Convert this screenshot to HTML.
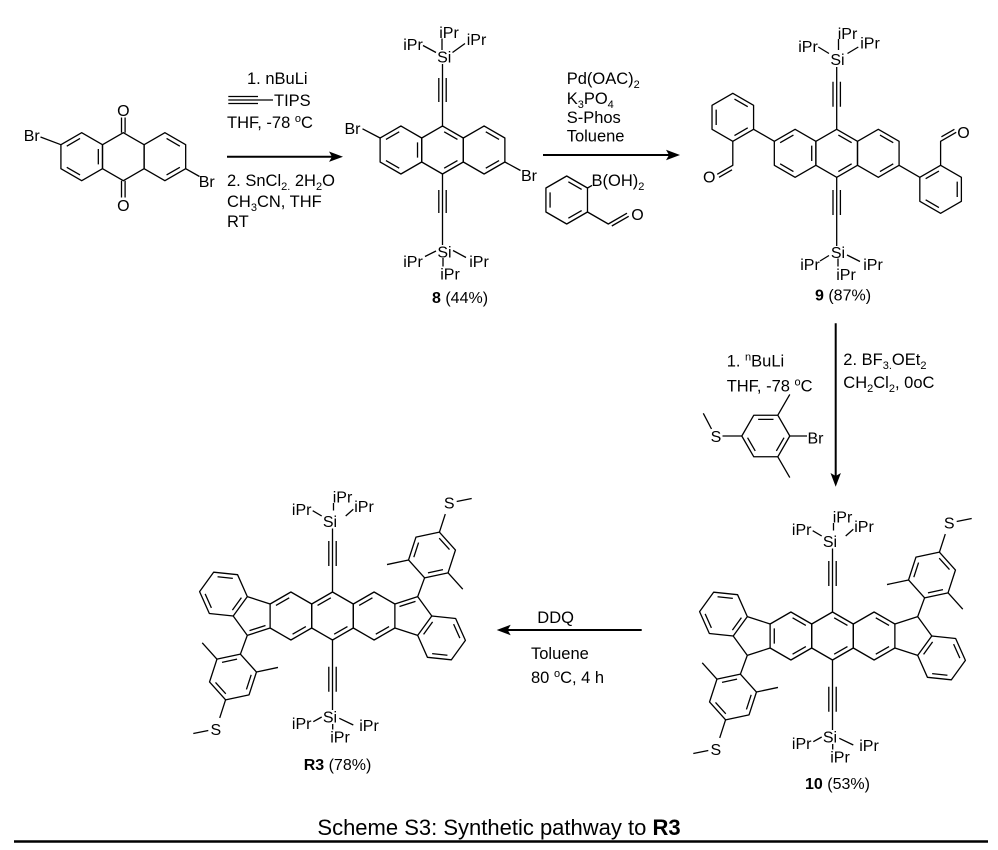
<!DOCTYPE html>
<html><head><meta charset="utf-8"><style>
html,body{margin:0;padding:0;background:#fff;}
svg{display:block;}
text{font-family:"Liberation Sans",Arial,sans-serif;fill:#000;}
.l{font-size:16px;text-anchor:middle;}
.r{font-size:16.5px;}
.s{font-size:11px;}
.cap{font-size:22px;text-anchor:middle;}
</style></head><body>
<svg width="998" height="850" viewBox="0 0 998 850" xmlns="http://www.w3.org/2000/svg">

<!-- ============ BONDS ============ -->
<g fill="none" stroke="#000" stroke-width="1.3" stroke-linejoin="round">

<!-- Starting material -->
<g transform="translate(81.7,156.7)"><polygon points="0,-24 20.78,-12 20.78,12 0,24 -20.78,12 -20.78,-12"/><path d="M-14.96,-10.56L-1.66,-18.24M16.62,-7.68L16.62,7.68M-1.66,18.24L-14.96,10.56"/></g>
<g transform="translate(123.3,156.7)"><polygon points="0,-24 20.78,-12 20.78,12 0,24 -20.78,12 -20.78,-12"/></g>
<g transform="translate(164.9,156.7)"><polygon points="0,-24 20.78,-12 20.78,12 0,24 -20.78,12 -20.78,-12"/><path d="M1.66,-18.24L14.96,-10.56M14.96,10.56L1.66,18.24"/></g>
<path d="M121.5,132.7V117.5M125.1,132.7V117.5M121.5,180.7V197.5M125.1,180.7V197.5M60.9,144.7L40.5,137M185.7,168.7L199.5,176.5"/>

<!-- TIPS acetylene in reagents -->
<path d="M228.3,96.5H258M228.3,100H273M228.3,103.5H258"/>

<!-- Compound 8 -->
<g transform="translate(400.9,150)"><polygon points="0,-24 20.78,-12 20.78,12 0,24 -20.78,12 -20.78,-12"/><path d="M-14.96,-10.56L-1.66,-18.24M16.62,-7.68L16.62,7.68M-1.66,18.24L-14.96,10.56"/></g>
<g transform="translate(442.5,150)"><polygon points="0,-24 20.78,-12 20.78,12 0,24 -20.78,12 -20.78,-12"/><path d="M1.66,-18.24L14.96,-10.56M14.96,10.56L1.66,18.24"/></g>
<g transform="translate(484.1,150)"><polygon points="0,-24 20.78,-12 20.78,12 0,24 -20.78,12 -20.78,-12"/><path d="M1.66,-18.24L14.96,-10.56M14.96,10.56L1.66,18.24"/></g>
<path d="M380.1,138L362.5,128.8M504.9,162L520.5,170.5"/>
<path d="M442.5,64V126M438.8,78V102M446.2,78V102M442.5,174V245M438.8,190V213M446.2,190V213"/>
<path d="M423,45.5L436,52.5M452.5,52.5L465,43.5M442,38.5V50M425,256.5L436,251M453,250.5L466,257.5M443,258V266.5"/>

<!-- Boronic acid -->
<g transform="translate(566.7,200)"><polygon points="0,-24 20.78,-12 20.78,12 0,24 -20.78,12 -20.78,-12"/><path d="M-16.62,7.68L-16.62,-7.68M1.66,-18.24L14.96,-10.56M14.96,10.56L1.66,18.24"/></g>
<path d="M587.5,188L592,185.4M587.5,212L608.3,224L627,213.2M611.8,226L628.7,216.3"/>

<!-- Compound 9 -->
<g transform="translate(795.1,153.3)"><polygon points="0,-24 20.78,-12 20.78,12 0,24 -20.78,12 -20.78,-12"/><path d="M-14.96,-10.56L-1.66,-18.24M16.62,-7.68L16.62,7.68M-1.66,18.24L-14.96,10.56"/></g>
<g transform="translate(836.7,153.3)"><polygon points="0,-24 20.78,-12 20.78,12 0,24 -20.78,12 -20.78,-12"/><path d="M1.66,-18.24L14.96,-10.56M14.96,10.56L1.66,18.24"/></g>
<g transform="translate(878.3,153.3)"><polygon points="0,-24 20.78,-12 20.78,12 0,24 -20.78,12 -20.78,-12"/><path d="M1.66,-18.24L14.96,-10.56M14.96,10.56L1.66,18.24"/></g>
<g>
<g transform="translate(732.8,117.3)"><polygon points="0,-24 20.78,-12 20.78,12 0,24 -20.78,12 -20.78,-12"/><path d="M1.66,-18.24L14.96,-10.56M14.96,10.56L1.66,18.24M-16.62,7.68L-16.62,-7.68"/></g>
<path d="M774.35,141.3L753.58,129.3M732.8,141.3V165.3L717.2,174.3M732,169.8L719,177.3"/>
</g>
<g transform="rotate(180,836.7,153.3)">
<g transform="translate(732.8,117.3)"><polygon points="0,-24 20.78,-12 20.78,12 0,24 -20.78,12 -20.78,-12"/><path d="M1.66,-18.24L14.96,-10.56M14.96,10.56L1.66,18.24M-16.62,7.68L-16.62,-7.68"/></g>
<path d="M774.35,141.3L753.58,129.3M732.8,141.3V165.3L717.2,174.3M732,169.8L719,177.3"/>
</g>
<path d="M836.7,67V129.3M833,81.7V106.7M840.4,81.7V106.7M836.7,177.3V246M833,190V215M840.4,190V215"/>
<path d="M818.3,47L829,53.5M847.5,53.5L858.3,47M838.5,39V50M820,261L829,255.5M847,255L860,261.5M838,258.5V266.5"/>

<!-- Bromo-thioanisole reagent -->
<g transform="translate(765.8,436) rotate(30)"><polygon points="0,-24 20.78,-12 20.78,12 0,24 -20.78,12 -20.78,-12"/><path d="M-14.96,-10.56L-1.66,-18.24M16.62,-7.68L16.62,7.68M-1.66,18.24L-14.96,10.56"/></g>
<path d="M722.5,436H741.8M711.5,429L703.3,413.3M789.8,436H807M777.8,415.2L789.8,394.4M777.8,456.8L789.8,477.6"/>

<!-- Compound 10 -->
<g>
<g transform="translate(790.9,636)"><polygon points="0,-24 20.78,-12 20.78,12 0,24 -20.78,12 -20.78,-12"/><path d="M-16.62,7.68L-16.62,-7.68M1.66,-18.24L14.96,-10.56M14.96,10.56L1.66,18.24"/></g>
<g transform="translate(832.5,636)"><polygon points="0,-24 20.78,-12 20.78,12 0,24 -20.78,12 -20.78,-12"/><path d="M1.66,-18.24L14.96,-10.56M14.96,10.56L1.66,18.24"/></g>
<g transform="translate(874.1,636)"><polygon points="0,-24 20.78,-12 20.78,12 0,24 -20.78,12 -20.78,-12"/><path d="M1.66,-18.24L14.96,-10.56M14.96,10.56L1.66,18.24"/></g>
<path d="M832.5,548.5V612M828.8,561V586M836.2,561V586M832.5,660V730M828.8,686.7V711.7M836.2,686.7V711.7"/>
<path d="M812.7,530.7L821.7,536M845.7,536L853.3,529.3M833.5,523V530.5M813.3,741.7L821.7,737M839.3,738.3L853.3,745M832.7,744V749.5"/>
<g>
<path d="M770.1,624L747.3,616.6M733.2,636L747.3,655.4L770.1,648M747.3,655.4L740.4,674.2M708.3,750.5L693.3,753.5"/>
<g transform="translate(723.46,614.09) rotate(96)"><polygon points="0,-24 20.78,-12 20.78,12 0,24 -20.78,12 -20.78,-12"/><path d="M1.66,-18.24L14.96,-10.56M14.96,10.56L1.66,18.24M-16.62,7.68L-16.62,-7.68"/></g>
<g transform="translate(733,697) rotate(18)"><polygon points="0,-24 20.78,-12 20.78,12 0,24 -20.78,12 -20.78,-12"/><path d="M-14.96,-10.56L-1.66,-18.24M16.62,-7.68L16.62,7.68M-1.66,18.24L-14.96,10.56M-20.78,-12L-39.83,-23M20.78,-12L39.83,-23M0,24V43"/></g>
</g>
<g transform="rotate(180,832.5,636)">
<path d="M770.1,624L747.3,616.6M733.2,636L747.3,655.4L770.1,648M747.3,655.4L740.4,674.2M708.3,750.5L693.3,753.5"/>
<g transform="translate(723.46,614.09) rotate(96)"><polygon points="0,-24 20.78,-12 20.78,12 0,24 -20.78,12 -20.78,-12"/><path d="M1.66,-18.24L14.96,-10.56M14.96,10.56L1.66,18.24M-16.62,7.68L-16.62,-7.68"/></g>
<g transform="translate(733,697) rotate(18)"><polygon points="0,-24 20.78,-12 20.78,12 0,24 -20.78,12 -20.78,-12"/><path d="M-14.96,-10.56L-1.66,-18.24M16.62,-7.68L16.62,7.68M-1.66,18.24L-14.96,10.56M-20.78,-12L-39.83,-23M20.78,-12L39.83,-23M0,24V43"/></g>
</g>
</g>

<!-- R3 (compound 10 geometry shifted) -->
<g transform="translate(-500,-20)">
<g transform="translate(790.9,636)"><polygon points="0,-24 20.78,-12 20.78,12 0,24 -20.78,12 -20.78,-12"/><path d="M-14.96,-10.56L-1.66,-18.24M14.96,10.56L1.66,18.24"/></g>
<g transform="translate(832.5,636)"><polygon points="0,-24 20.78,-12 20.78,12 0,24 -20.78,12 -20.78,-12"/><path d="M-14.96,-10.56L-1.66,-18.24M14.96,10.56L1.66,18.24"/></g>
<g transform="translate(874.1,636)"><polygon points="0,-24 20.78,-12 20.78,12 0,24 -20.78,12 -20.78,-12"/><path d="M-14.96,-10.56L-1.66,-18.24M14.96,10.56L1.66,18.24"/></g>
<path d="M832.5,548.5V612M828.8,561V586M836.2,561V586M832.5,660V730M828.8,686.7V711.7M836.2,686.7V711.7"/>
<path d="M812.7,530.7L821.7,536M845.7,536L853.3,529.3M833.5,523V530.5M813.3,741.7L821.7,737M839.3,738.3L853.3,745M832.7,744V749.5"/>
<g>
<path d="M770.1,624L747.3,616.6M733.2,636L747.3,655.4L770.1,648M747.3,655.4L740.4,674.2M708.3,750.5L693.3,753.5M749.5,650.6L765.5,645.5"/>
<g transform="translate(723.46,614.09) rotate(96)"><polygon points="0,-24 20.78,-12 20.78,12 0,24 -20.78,12 -20.78,-12"/><path d="M1.66,-18.24L14.96,-10.56M14.96,10.56L1.66,18.24M-16.62,7.68L-16.62,-7.68"/></g>
<g transform="translate(733,697) rotate(18)"><polygon points="0,-24 20.78,-12 20.78,12 0,24 -20.78,12 -20.78,-12"/><path d="M-14.96,-10.56L-1.66,-18.24M16.62,-7.68L16.62,7.68M-1.66,18.24L-14.96,10.56M-20.78,-12L-39.83,-23M20.78,-12L39.83,-23M0,24V43"/></g>
</g>
<g transform="rotate(180,832.5,636)">
<path d="M770.1,624L747.3,616.6M733.2,636L747.3,655.4L770.1,648M747.3,655.4L740.4,674.2M708.3,750.5L693.3,753.5M749.5,650.6L765.5,645.5"/>
<g transform="translate(723.46,614.09) rotate(96)"><polygon points="0,-24 20.78,-12 20.78,12 0,24 -20.78,12 -20.78,-12"/><path d="M1.66,-18.24L14.96,-10.56M14.96,10.56L1.66,18.24M-16.62,7.68L-16.62,-7.68"/></g>
<g transform="translate(733,697) rotate(18)"><polygon points="0,-24 20.78,-12 20.78,12 0,24 -20.78,12 -20.78,-12"/><path d="M-14.96,-10.56L-1.66,-18.24M16.62,-7.68L16.62,7.68M-1.66,18.24L-14.96,10.56M-20.78,-12L-39.83,-23M20.78,-12L39.83,-23M0,24V43"/></g>
</g>
</g>

<!-- Arrows -->
<g stroke-width="2">
<path d="M227,156.7H334"/>
<path d="M543,155H671"/>
<path d="M835.7,323.3V477"/>
<path d="M641.7,630H507"/>
</g>
<path d="M14,841.5H988" stroke-width="2.5"/>
</g>
<g fill="#000" stroke="none">
<polygon points="343,156.7 329,151.5 332,156.7 329,161.9"/>
<polygon points="680,155 666,149.8 669,155 666,160.2"/>
<polygon points="835.7,486.7 830.5,473 835.7,476 840.9,473"/>
<polygon points="496.7,630 510.7,624.8 507.7,630 510.7,635.2"/>
</g>

<!-- ============ TEXT ============ -->
<!-- Starting material -->
<text class="l" x="31.7" y="140.8">Br</text>
<text class="l" x="123.3" y="115.8">O</text>
<text class="l" x="123.3" y="210.8">O</text>
<text class="l" x="206.7" y="186.8">Br</text>

<!-- Arrow 1 reagents -->
<text class="r" x="247" y="84">1. nBuLi</text>
<text class="r" x="274" y="106">TIPS</text>
<text class="r" x="227" y="128">THF, -78 <tspan class="s" dy="-6">o</tspan><tspan dy="6">C</tspan></text>
<text class="r" x="227" y="186">2. SnCl<tspan class="s" dy="4">2.</tspan><tspan dy="-4"> 2H</tspan><tspan class="s" dy="4">2</tspan><tspan dy="-4">O</tspan></text>
<text class="r" x="227" y="207">CH<tspan class="s" dy="4">3</tspan><tspan dy="-4">CN, THF</tspan></text>
<text class="r" x="227" y="227">RT</text>

<!-- Compound 8 -->
<text class="l" x="449" y="37.8">iPr</text>
<text class="l" x="413" y="49.8">iPr</text>
<text class="l" x="476.5" y="44.8">iPr</text>
<text class="l" x="444.2" y="62.3">Si</text>
<text class="l" x="352.5" y="134">Br</text>
<text class="l" x="529" y="180.8">Br</text>
<text class="l" x="444.5" y="257.3">Si</text>
<text class="l" x="413" y="266.8">iPr</text>
<text class="l" x="479" y="266.8">iPr</text>
<text class="l" x="450" y="279.3">iPr</text>
<text class="l" x="460" y="303"><tspan font-weight="bold">8</tspan> (44%)</text>

<!-- Arrow 2 reagents -->
<text class="r" x="566.7" y="84">Pd(OAC)<tspan class="s" dy="4">2</tspan></text>
<text class="r" x="566.7" y="104">K<tspan class="s" dy="4">3</tspan><tspan dy="-4">PO</tspan><tspan class="s" dy="4">4</tspan></text>
<text class="r" x="566.7" y="123">S-Phos</text>
<text class="r" x="566.7" y="141.5">Toluene</text>
<text class="r" x="591.5" y="186">B(OH)<tspan class="s" dy="4">2</tspan></text>
<text class="l" x="637.5" y="220">O</text>

<!-- Compound 9 -->
<text class="l" x="847.5" y="38.8">iPr</text>
<text class="l" x="808" y="51.8">iPr</text>
<text class="l" x="870" y="48.3">iPr</text>
<text class="l" x="837.5" y="64.8">Si</text>
<text class="l" x="709.2" y="182.5">O</text>
<text class="l" x="963.5" y="137.8">O</text>
<text class="l" x="838" y="257.8">Si</text>
<text class="l" x="810" y="269.8">iPr</text>
<text class="l" x="873" y="269.8">iPr</text>
<text class="l" x="846" y="279.8">iPr</text>
<text class="l" x="843" y="300.7"><tspan font-weight="bold">9</tspan> (87%)</text>

<!-- Arrow 3 reagents -->
<text class="r" x="726.7" y="366.5">1. <tspan class="s" dy="-6">n</tspan><tspan dy="6">BuLi</tspan></text>
<text class="r" x="726.7" y="391.5">THF, -78 <tspan class="s" dy="-6">o</tspan><tspan dy="6">C</tspan></text>
<text class="r" x="843.3" y="365">2. BF<tspan class="s" dy="4">3.</tspan><tspan dy="-4">OEt</tspan><tspan class="s" dy="4">2</tspan></text>
<text class="r" x="843.3" y="388">CH<tspan class="s" dy="4">2</tspan><tspan dy="-4">Cl</tspan><tspan class="s" dy="4">2</tspan><tspan dy="-4">, 0oC</tspan></text>
<text class="l" x="716" y="441.8">S</text>
<text class="l" x="815.5" y="443.3">Br</text>

<!-- Compound 10 -->
<text class="l" x="842.5" y="522.5">iPr</text>
<text class="l" x="801.7" y="534.8">iPr</text>
<text class="l" x="864" y="531.8">iPr</text>
<text class="l" x="830" y="546.8">Si</text>
<text class="l" x="830" y="742.5">Si</text>
<text class="l" x="801.7" y="749.1">iPr</text>
<text class="l" x="869" y="750.8">iPr</text>
<text class="l" x="840" y="762.5">iPr</text>
<text class="l" x="715.8" y="755">S</text>
<text class="l" x="949.2" y="528.6">S</text>
<text class="l" x="837.5" y="789"><tspan font-weight="bold">10</tspan> (53%)</text>

<!-- R3 -->
<text class="l" x="342.5" y="502.5">iPr</text>
<text class="l" x="301.7" y="514.8">iPr</text>
<text class="l" x="364" y="511.8">iPr</text>
<text class="l" x="330" y="526.8">Si</text>
<text class="l" x="330" y="722.5">Si</text>
<text class="l" x="301.7" y="729.1">iPr</text>
<text class="l" x="369" y="730.8">iPr</text>
<text class="l" x="340" y="742.5">iPr</text>
<text class="l" x="215.8" y="735">S</text>
<text class="l" x="449.2" y="508.6">S</text>
<text class="l" x="337.5" y="770"><tspan font-weight="bold">R3</tspan> (78%)</text>

<!-- Arrow 4 reagents -->
<text class="r" x="537.3" y="623">DDQ</text>
<text class="r" x="531" y="659">Toluene</text>
<text class="r" x="531" y="683">80 <tspan class="s" dy="-6">o</tspan><tspan dy="6">C, 4 h</tspan></text>

<!-- Caption -->
<text class="cap" x="499" y="835">Scheme S3: Synthetic pathway to <tspan font-weight="bold">R3</tspan></text>
</svg>
</body></html>
